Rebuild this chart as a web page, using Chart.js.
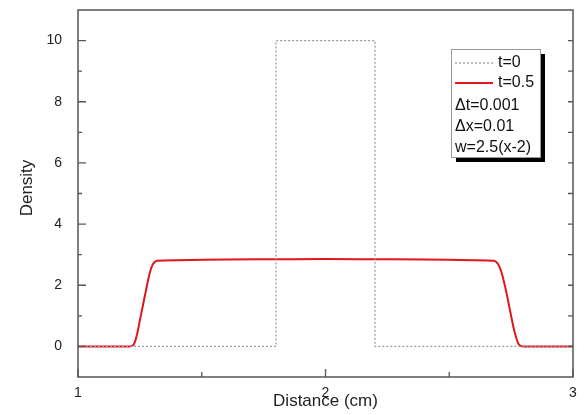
<!DOCTYPE html>
<html>
<head>
<meta charset="utf-8">
<script src="https://cdn.jsdelivr.net/npm/chart.js@4.4.1/dist/chart.umd.min.js"></script>
<style>
    html, body { margin: 0; padding: 0; background: #fff; }
    #wrap { width: 584px; height: 415px; }
</style>
</head>
<body>
<div id="wrap"><canvas id="chart" width="584" height="415"></canvas></div>
<script>
// Anfangsprofil t=0
const x0 = [1, 1.8, 1.8, 2.2, 2.2, 3];
const y0 = [0, 0, 10, 10, 0, 0];

// Profil t=0.5
const x1 = [1, 1.21, 1.22, 1.23, 1.24, 1.25, 1.26, 1.27, 1.28, 1.29, 1.30, 1.31, 1.32, 1.4, 1.6, 1.8, 2.0, 2.2, 2.4, 2.6, 2.68, 2.69, 2.70, 2.71, 2.72, 2.73, 2.74, 2.75, 2.76, 2.77, 2.78, 2.79, 2.80, 3];
const y1 = [0, 0, 0.02, 0.15, 0.45, 0.85, 1.25, 1.65, 2.05, 2.4, 2.65, 2.76, 2.80, 2.82, 2.84, 2.85, 2.86, 2.85, 2.84, 2.82, 2.80, 2.76, 2.65, 2.45, 2.15, 1.8, 1.4, 1.0, 0.6, 0.3, 0.08, 0.01, 0, 0];

const xTicks = [1, 2, 3];
const yTicks = [0, 2, 4, 6, 8, 10];

const legendLines = ['\u0394t=0.001', '\u0394x=0.01', 'w=2.5(x-2)'];

const FONT = 'Arial, "Liberation Sans", sans-serif';

function toPoints(xs, ys) {
    return xs.map((x, i) => ({ x: x, y: ys[i] }));
}

// Rahmen, Ticks nach innen, Achsentitel und Legende
const framePlugin = {
    id: 'frame',
    afterDraw(chart) {
        const ctx = chart.ctx;
        const a = chart.chartArea;
        const xs = chart.scales.x;
        const ys = chart.scales.y;
        ctx.save();
        ctx.strokeStyle = '#555';
        ctx.lineWidth = 1.5;
        ctx.strokeRect(a.left, a.top, a.right - a.left, a.bottom - a.top);

        ctx.lineWidth = 1.3;
        ctx.beginPath();
        yTicks.forEach((v) => {
            const p = ys.getPixelForValue(v);
            ctx.moveTo(a.left, p); ctx.lineTo(a.left + 8, p);
            ctx.moveTo(a.right, p); ctx.lineTo(a.right - 5, p);
            const m = ys.getPixelForValue(v + 1);
            if (v + 1 < ys.max) {
                ctx.moveTo(a.left, m); ctx.lineTo(a.left + 4, m);
                ctx.moveTo(a.right, m); ctx.lineTo(a.right - 5, m);
            }
        });
        xTicks.forEach((v, i) => {
            const p = xs.getPixelForValue(v);
            ctx.moveTo(p, a.bottom); ctx.lineTo(p, a.bottom - 8);
            if (i < xTicks.length - 1) {
                const m = xs.getPixelForValue((v + xTicks[i + 1]) / 2);
                ctx.moveTo(m, a.bottom); ctx.lineTo(m, a.bottom - 5);
            }
        });
        ctx.stroke();

        // Achsentitel
        ctx.fillStyle = '#222';
        ctx.font = '17px ' + FONT;
        ctx.textAlign = 'center';
        ctx.textBaseline = 'middle';
        ctx.fillText('Distance (cm)', (a.left + a.right) / 2, 401);
        ctx.save();
        ctx.translate(27, 188);
        ctx.rotate(-Math.PI / 2);
        ctx.fillText('Density', 0, 0);
        ctx.restore();

        // Legende
        const bx = 451, by = 49, bw = 89, bh = 108;
        ctx.fillStyle = '#000';
        ctx.fillRect(bx + 5, by + 5, bw, bh);
        ctx.fillStyle = '#fff';
        ctx.fillRect(bx, by, bw, bh);
        ctx.strokeStyle = '#999';
        ctx.lineWidth = 1;
        ctx.strokeRect(bx + 0.5, by + 0.5, bw, bh);

        ctx.font = '16px ' + FONT;
        ctx.textAlign = 'left';
        ctx.fillStyle = '#111';
        const ds = chart.data.datasets;
        ds.forEach((d, i) => {
            const ly = 63 + i * 20;
            ctx.save();
            ctx.strokeStyle = d.borderColor;
            ctx.lineWidth = d.borderWidth;
            ctx.setLineDash(d.borderDash || []);
            ctx.beginPath();
            ctx.moveTo(455, ly); ctx.lineTo(493, ly);
            ctx.stroke();
            ctx.restore();
            ctx.fillText(d.label, 498, ly);
        });
        legendLines.forEach((t, i) => {
            ctx.fillText(t, 455, 106 + i * 21);
        });
        ctx.restore();
    }
};

new Chart(document.getElementById('chart'), {
    type: 'scatter',
    data: {
        datasets: [{
            label: 't=0',
            data: toPoints(x0, y0),
            showLine: true,
            borderColor: '#9a9a9a',
            borderWidth: 1.3,
            borderDash: [2, 2],
            pointRadius: 0,
            tension: 0
        }, {
            label: 't=0.5',
            data: toPoints(x1, y1),
            showLine: true,
            borderColor: '#e0161b',
            borderWidth: 2,
            pointRadius: 0,
            cubicInterpolationMode: 'monotone'
        }]
    },
    options: {
        responsive: false,
        animation: false,
        layout: { padding: { top: 10, right: 11, left: 0, bottom: 0 } },
        plugins: {
            legend: { display: false },
            tooltip: { enabled: false }
        },
        scales: {
            x: {
                type: 'linear',
                min: 1,
                max: 3,
                grid: { display: false },
                border: { display: false },
                afterBuildTicks: (s) => { s.ticks = xTicks.map(v => ({ value: v })); },
                afterFit: (s) => { s.height = 38; s.paddingLeft = 0; s.paddingRight = 0; },
                ticks: {
                    padding: 0,
                    color: '#222',
                    font: { family: FONT, size: 14 }
                }
            },
            y: {
                min: -1,
                max: 11,
                grid: { display: false },
                border: { display: false },
                afterBuildTicks: (s) => { s.ticks = yTicks.map(v => ({ value: v })); },
                afterFit: (s) => { s.width = 78; s.paddingTop = 0; s.paddingBottom = 0; },
                ticks: {
                    padding: 8,
                    color: '#222',
                    font: { family: FONT, size: 14 }
                }
            }
        }
    },
    plugins: [framePlugin]
});
</script>
</body>
</html>
